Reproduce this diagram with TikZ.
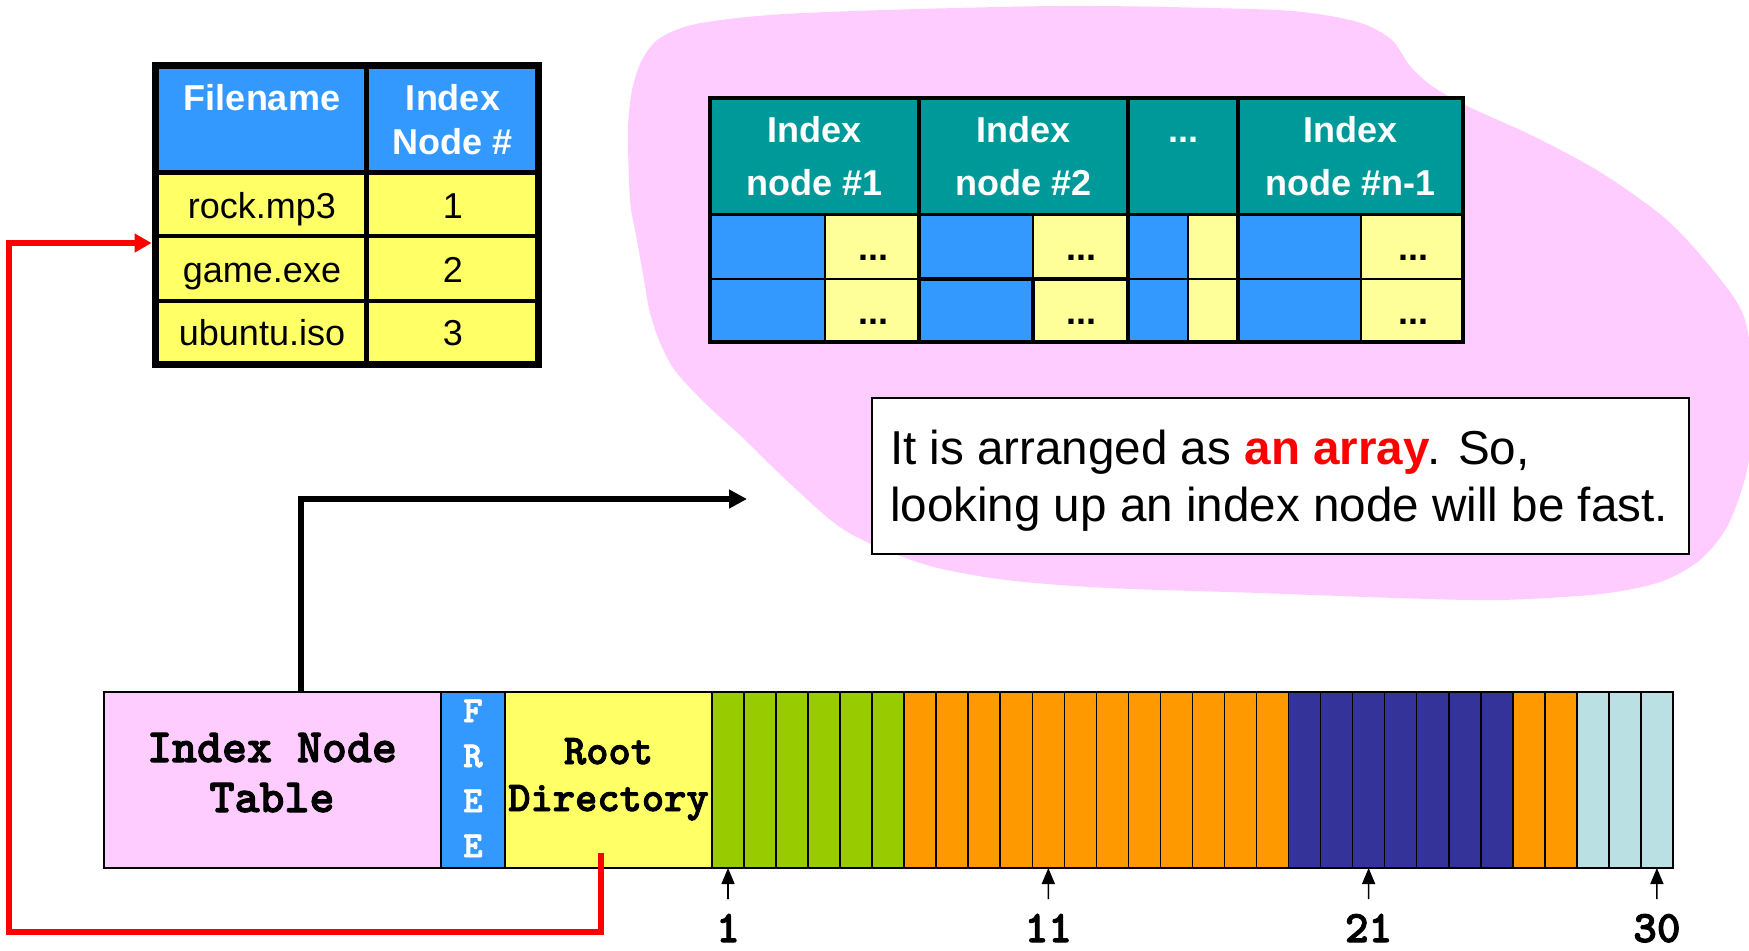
\documentclass[tikz,border=0pt]{standalone}
\usepackage{fontspec}
\setmainfont{Liberation Sans}
\newfontfamily\slabtt{lmmonolt10-bold.otf}[FakeBold=2.2]
\usetikzlibrary{arrows.meta}

\definecolor{blobpink}{HTML}{FFCCFF}
\definecolor{cellblue}{HTML}{3399FF}
\definecolor{celyel}{HTML}{FFFF66}
\definecolor{paleyel}{HTML}{FFFF99}
\definecolor{headteal}{HTML}{009999}
\definecolor{blkgreen}{HTML}{99CC00}
\definecolor{blkorange}{HTML}{FF9900}
\definecolor{blknavy}{HTML}{333399}
\definecolor{blkcyan}{HTML}{BBE0E3}

% rectangle node given by its two corners: name, x1, y1, x2, y2, style
\newcommand\cellbox[6]{%
  \node[cellbase,#6,minimum width={(#4-#2)*0.5pt},minimum height={(#5-#3)*0.5pt}]
    (#1) at ({(#2+#4)/2},{(#3+#5)/2}) {};}
% text placed by its baseline: name, x, y, style, text
\newcommand\putlabel[5]{\node[txtbase,#4] (#1) at (#2,#3) {#5};}

\tikzset{
  cellbase/.style={draw, inner sep=0pt, outer sep=0pt, line width=1pt},
  txtbase/.style={inner sep=0pt, outer sep=0pt, anchor=base},
  tabtext/.style={font=\fontsize{18}{21}\selectfont},
  tabhead/.style={font=\fontsize{18}{21}\selectfont\bfseries, text=white},
  dotstext/.style={font=\fontsize{18}{21}\selectfont\bfseries},
  notetext/.style={font=\fontsize{23.8}{28}\selectfont, anchor=base west},
  disklarge/.style={font=\fontsize{23.8}{28}\selectfont\slabtt},
  diskroot/.style={font=\fontsize{21.2}{25}\selectfont\slabtt},
  diskfree/.style={font=\fontsize{18.3}{22}\selectfont\slabtt, text=white},
  blocknum/.style={font=\fontsize{22.5}{26}\selectfont\slabtt},
  bigarrow/.style={line width=3.3pt, line join=miter, -{Triangle[length=9pt,width=9pt]}},
  redarrow/.style={red, line width=3pt, line join=miter, -{Triangle[length=8.5pt,width=9pt]}},
  tickarrow/.style={line width=0.8pt, -{Triangle[length=8pt,width=6.5pt]}},
}

\begin{document}
\begin{tikzpicture}[x=0.5pt,y=-0.5pt]
\useasboundingbox (0,0) rectangle (1749,950);

% pink cloud behind the index node array
\begin{scope}
  \clip (0,0) rectangle (1749,950);
  \fill[blobpink] plot[smooth cycle, tension=0.5] coordinates {
    (628,130) (632,90) (642,60) (660,38) (701,23) (803,13) (1057,6) (1250,9)
    (1311,13) (1361,23) (1392,40) (1410,66) (1432,86) (1467,106) (1533,136)
    (1600,172) (1667,220) (1717,275) (1745,320) (1755,400) (1747,470)
    (1728,525) (1700,560) (1660,582) (1600,594) (1500,600) (1396,598)
    (1260,593) (1108,588) (1006,580) (930,566) (869,543) (833,522) (783,477)
    (742,437) (707,405) (676,372) (661,345) (650,313) (644,280) (636,235)
    (630,200)};
\end{scope}

% directory table
\cellbox{fnhead}{155}{65}{366}{172}{fill=cellblue, line width=2.5pt}
\cellbox{inhead}{366}{65}{538}{172}{fill=cellblue, line width=2.5pt}
\cellbox{rockname}{155}{172}{366}{236}{fill=celyel, line width=2pt}
\cellbox{rocknum}{366}{172}{538}{236}{fill=celyel, line width=2pt}
\cellbox{gamename}{155}{236}{366}{301}{fill=celyel, line width=2pt}
\cellbox{gamenum}{366}{236}{538}{301}{fill=celyel, line width=2pt}
\cellbox{isoname}{155}{301}{366}{364}{fill=celyel, line width=2pt}
\cellbox{isonum}{366}{301}{538}{364}{fill=celyel, line width=2pt}
\draw[line width=2.5pt] (fnhead.north east) -- (isoname.south east);
\draw[line width=2.5pt] (fnhead.south west) -- (inhead.south east);
\cellbox{dirtable}{155}{65}{538}{364}{line width=3.5pt}

\putlabel{fntitle}{262}{110}{tabhead}{Filename}
\putlabel{intitle}{453}{110}{tabhead}{Index}
\putlabel{intitleb}{453}{154}{tabhead}{Node \#}
\putlabel{rocktext}{262}{218}{tabtext}{rock.mp3}
\putlabel{rockidx}{453}{218}{tabtext}{1}
\putlabel{gametext}{262}{282}{tabtext}{game.exe}
\putlabel{gameidx}{453}{282}{tabtext}{2}
\putlabel{isotext}{262}{345}{tabtext}{ubuntu.iso}
\putlabel{isoidx}{453}{345}{tabtext}{3}

% index node array
\cellbox{hdone}{710}{98}{919}{215}{fill=headteal, line width=1.7pt}
\cellbox{hdtwo}{919}{98}{1128}{215}{fill=headteal, line width=1.7pt}
\cellbox{hdmore}{1128}{98}{1238}{215}{fill=headteal, line width=1.7pt}
\cellbox{hdlast}{1238}{98}{1463}{215}{fill=headteal, line width=1.7pt}

\cellbox{oneA}{710}{215}{825}{279}{fill=cellblue, line width=1.2pt}
\cellbox{oneB}{825}{215}{919}{279}{fill=paleyel, line width=1.2pt}
\cellbox{twoA}{919}{215}{1033}{279}{fill=cellblue, line width=1.2pt}
\cellbox{twoB}{1033}{215}{1128}{279}{fill=paleyel, line width=1.2pt}
\cellbox{moreA}{1128}{215}{1188}{279}{fill=cellblue, line width=1.2pt}
\cellbox{moreB}{1188}{215}{1238}{279}{fill=paleyel, line width=1.2pt}
\cellbox{lastA}{1238}{215}{1361}{279}{fill=cellblue, line width=1.2pt}
\cellbox{lastB}{1361}{215}{1463}{279}{fill=paleyel, line width=1.2pt}

\cellbox{oneC}{710}{279}{825}{342}{fill=cellblue, line width=1.2pt}
\cellbox{oneD}{825}{279}{919}{342}{fill=paleyel, line width=1.2pt}
\cellbox{twoC}{919}{279}{1033}{342}{fill=cellblue, line width=2pt}
\cellbox{twoD}{1033}{279}{1128}{342}{fill=paleyel, line width=2pt}
\cellbox{moreC}{1128}{279}{1188}{342}{fill=cellblue, line width=1.2pt}
\cellbox{moreD}{1188}{279}{1238}{342}{fill=paleyel, line width=1.2pt}
\cellbox{lastC}{1238}{279}{1361}{342}{fill=cellblue, line width=1.2pt}
\cellbox{lastD}{1361}{279}{1463}{342}{fill=paleyel, line width=1.2pt}

\draw[line width=1.7pt] (hdone.north east) -- (oneD.south east)
  (hdtwo.north east) -- (twoD.south east)
  (hdmore.north east) -- (moreD.south east);
\cellbox{nodearray}{710}{98}{1463}{342}{line width=1.7pt}

\putlabel{hdonea}{814.5}{142}{tabhead}{Index}
\putlabel{hdoneb}{814.5}{195}{tabhead}{node \#1}
\putlabel{hdtwoa}{1023.5}{142}{tabhead}{Index}
\putlabel{hdtwob}{1023.5}{195}{tabhead}{node \#2}
\putlabel{hdmorea}{1183}{142}{tabhead}{...}
\putlabel{hdlasta}{1350.5}{142}{tabhead}{Index}
\putlabel{hdlastb}{1350.5}{195}{tabhead}{node \#n-1}

\putlabel{dotsoneB}{873}{260}{dotstext}{...}
\putlabel{dotstwoB}{1081}{260}{dotstext}{...}
\putlabel{dotslastB}{1413}{260}{dotstext}{...}
\putlabel{dotsoneD}{873}{324}{dotstext}{...}
\putlabel{dotstwoD}{1081}{324}{dotstext}{...}
\putlabel{dotslastD}{1413}{324}{dotstext}{...}

% explanation box
\cellbox{notebox}{872}{398}{1689}{554}{fill=white, line width=0.9pt}
\putlabel{notea}{890}{464}{notetext}{It is arranged as \textcolor{red}{\bfseries an array}\kern-1.2pt. So,}
\putlabel{noteb}{890}{521}{notetext}{looking up an index node will be fast.}

% disk layout
\cellbox{int}{104}{692}{441}{868}{fill=blobpink, line width=1pt}
\cellbox{free}{441}{692}{505}{868}{fill=cellblue, line width=1pt}
\cellbox{root}{505}{692}{712}{868}{fill=celyel, line width=1pt}
\foreach \c [count=\n] in {blkgreen,blkgreen,blkgreen,blkgreen,blkgreen,blkgreen,
    blkorange,blkorange,blkorange,blkorange,blkorange,blkorange,
    blkorange,blkorange,blkorange,blkorange,blkorange,blkorange,
    blknavy,blknavy,blknavy,blknavy,blknavy,blknavy,blknavy,
    blkorange,blkorange,blkcyan,blkcyan,blkcyan} {
  \pgfmathsetmacro\xa{712+(\n-1)*32.03}
  \pgfmathsetmacro\xb{712+\n*32.03}
  \cellbox{blk\n}{\xa}{692}{\xb}{868}{fill=\c, line width=0.8pt}
}
\cellbox{disk}{104}{692}{1673}{868}{line width=1.3pt}

\putlabel{inta}{272}{762}{disklarge}{Index Node}
\putlabel{intb}{272}{812}{disklarge}{Table}
\putlabel{freef}{473}{722}{diskfree}{F}
\putlabel{freer}{473}{767}{diskfree}{R}
\putlabel{freee}{473}{812}{diskfree}{E}
\putlabel{freeE}{473}{857}{diskfree}{E}
\putlabel{roota}{608.5}{764}{diskroot}{Root}
\putlabel{rootb}{608.5}{811}{diskroot}{Directory}

\putlabel{numone}{728}{942}{blocknum}{1}
\putlabel{numeleven}{1048.3}{942}{blocknum}{11}
\putlabel{numtwentyone}{1368.6}{942}{blocknum}{21}
\putlabel{numthirty}{1656.9}{942}{blocknum}{30}
\draw[tickarrow, shorten <=7.5pt] (numone.north) -- (blk1.south);
\draw[tickarrow, shorten <=7.5pt] (numeleven.north) -- (blk11.south);
\draw[tickarrow, shorten <=7.5pt] (numtwentyone.north) -- (blk21.south);
\draw[tickarrow, shorten <=7.5pt] (numthirty.north) -- (blk30.south);

% connectors
\coordinate (toarray) at (747,499);
\draw[bigarrow] ([xshift=14.25pt]int.north) |- (toarray);

\coordinate (rdtail) at (601,853);
\coordinate (rdcorner) at (9,932);
\draw[redarrow] (rdtail) |- (rdcorner) |- ([xshift=-1.7pt,yshift=12.75pt]gamename.west);
\end{tikzpicture}
\end{document}
